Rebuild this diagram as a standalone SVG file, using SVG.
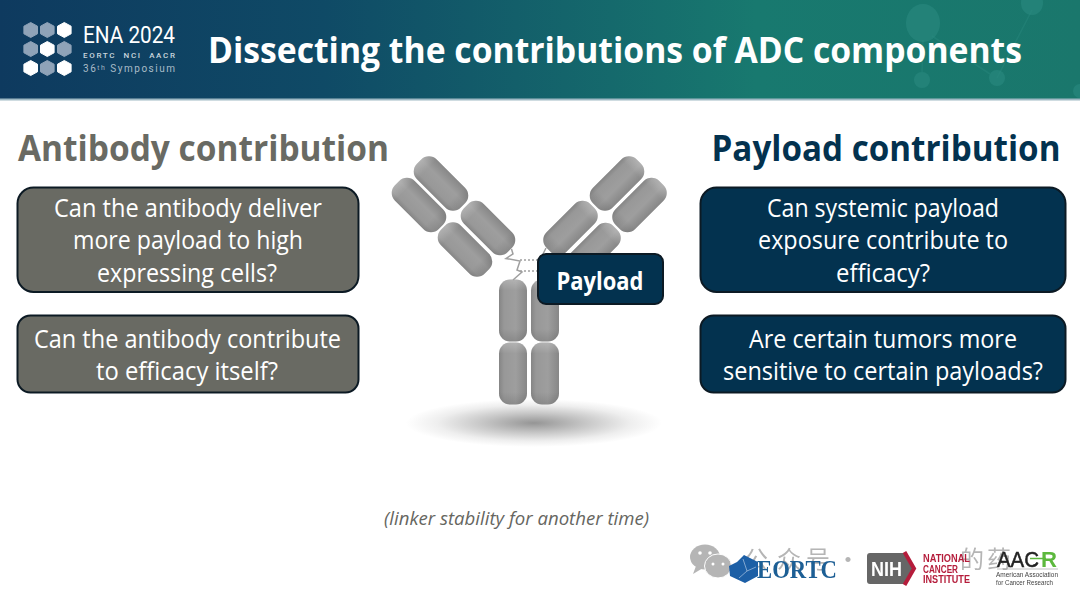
<svg xmlns="http://www.w3.org/2000/svg" width="1080" height="606" viewBox="0 0 1080 606">
<defs>
<linearGradient id="hdr" x1="0" x2="1" y1="0" y2="0"><stop offset="0" stop-color="#0e3a5f"/><stop offset="0.3" stop-color="#0f4a66"/><stop offset="0.7" stop-color="#18796f"/><stop offset="1" stop-color="#1a776c"/></linearGradient>
<linearGradient id="pill" x1="0" x2="1" y1="0" y2="0"><stop offset="0" stop-color="#858585"/><stop offset="0.18" stop-color="#989898"/><stop offset="0.6" stop-color="#9e9e9e"/><stop offset="1" stop-color="#878787"/></linearGradient>
<linearGradient id="pillv" x1="0" x2="0" y1="0" y2="1"><stop offset="0" stop-color="#fff" stop-opacity="0.22"/><stop offset="0.18" stop-color="#fff" stop-opacity="0"/><stop offset="0.8" stop-color="#000" stop-opacity="0"/><stop offset="1" stop-color="#000" stop-opacity="0.12"/></linearGradient>
<radialGradient id="shadow"><stop offset="0" stop-color="#959595"/><stop offset="0.4" stop-color="#c6c6c6"/><stop offset="0.75" stop-color="#eeeeee"/><stop offset="1" stop-color="#ffffff"/></radialGradient>
<g id="p"><rect x="-14" y="-31" width="28" height="62" rx="11" fill="url(#pill)"/><rect x="-14" y="-31" width="28" height="62" rx="11" fill="url(#pillv)"/></g>
<polygon id="hex" points="0,-7.500 6.800,-3.800 6.800,3.800 0,7.500 -6.800,3.800 -6.800,-3.800" stroke-linejoin="round" stroke-width="1" stroke="currentColor"/>
<filter id="soft" x="-5%" y="-5%" width="110%" height="110%"><feGaussianBlur stdDeviation="0.45"/></filter>
<style>
.t{font-family:"Open Sans","Noto Sans","Liberation Sans",sans-serif;text-anchor:middle}
.b{font-size:25px;fill:#fff}
.g{fill:#696a63;stroke:#0c1a24;stroke-width:2}
.n{fill:#03324f;stroke:#0c1a24;stroke-width:2}
.h{font-size:36px;font-weight:700}
.w{fill:#8fa3b8;color:#8fa3b8}
.v{fill:#fff;color:#fff}
</style>
</defs>
<rect width="1080" height="606" fill="#fff"/>
<g id="header">
<rect width="1080" height="99" fill="url(#hdr)"/>
<rect y="98.500" width="1080" height="2" fill="#9fb9c4"/>
<path d="M1032 10L997 78M923 40L922 72M932 36L990 74" stroke="#2a8a80" stroke-width="1.500" opacity="0.4" fill="none"/>
<g fill="#2a8a80" opacity="0.6"><ellipse cx="923" cy="23" rx="17" ry="19"/><circle cx="922" cy="80" r="8"/><circle cx="997" cy="78" r="8"/><ellipse cx="1032" cy="3" rx="11" ry="12"/><circle cx="1080" cy="91" r="7"/></g>
<g id="logo-hexes">
<use href="#hex" class="w" x="30.700" y="30"/><use href="#hex" class="w" x="47.300" y="30"/><use href="#hex" class="v" x="64.300" y="30"/>
<use href="#hex" class="w" x="30.700" y="49"/><use href="#hex" class="v" x="47.300" y="49"/><use href="#hex" class="w" x="64.300" y="49"/>
<use href="#hex" class="v" x="30.700" y="68"/><use href="#hex" class="w" x="47.300" y="68"/><use href="#hex" class="v" x="64.300" y="68"/>
</g>
<text x="83" y="43" font-family="Roboto,sans-serif" font-size="23" font-weight="400" fill="#fff" textLength="92" lengthAdjust="spacingAndGlyphs">ENA 2024</text>
<text x="83" y="58" font-family="Roboto,sans-serif" font-size="8" font-weight="500" fill="#c9d6de" textLength="92" xml:space="preserve">EORTC  NCI  AACR</text>
<text x="83" y="72" font-family="Roboto,sans-serif" font-size="10" fill="#a9bcc8" textLength="92">36ᵗʰ Symposium</text>
<text x="208" y="62.500" font-family="Open Sans,sans-serif" font-size="36" font-weight="700" fill="#fff" textLength="814" lengthAdjust="spacingAndGlyphs">Dissecting the contributions of ADC components</text>
</g>
<text class="t h" x="203.500" y="160.500" fill="#696a63" textLength="371" lengthAdjust="spacingAndGlyphs">Antibody contribution</text>
<text class="t h" x="886" y="160.500" fill="#03324f" textLength="349" lengthAdjust="spacingAndGlyphs">Payload contribution</text>
<g id="q1"><rect class="g" x="17.500" y="187.500" width="341" height="104.500" rx="16"/>
<text class="t b" x="188" y="217" textLength="268" lengthAdjust="spacingAndGlyphs">Can the antibody deliver</text><text class="t b" x="188" y="249" textLength="230" lengthAdjust="spacingAndGlyphs">more payload to high</text><text class="t b" x="187" y="281.500" textLength="180" lengthAdjust="spacingAndGlyphs">expressing cells?</text></g>
<g id="q2"><rect class="g" x="17.500" y="315.500" width="341" height="77" rx="13"/>
<text class="t b" x="187.500" y="348" textLength="307" lengthAdjust="spacingAndGlyphs">Can the antibody contribute</text><text class="t b" x="187" y="380" textLength="182" lengthAdjust="spacingAndGlyphs">to efficacy itself?</text></g>
<g id="q3"><rect class="n" x="700.500" y="187.500" width="365" height="104.500" rx="16"/>
<text class="t b" x="883" y="217" textLength="232" lengthAdjust="spacingAndGlyphs">Can systemic payload</text><text class="t b" x="883" y="249" textLength="250" lengthAdjust="spacingAndGlyphs">exposure contribute to</text><text class="t b" x="883" y="281.500" textLength="94" lengthAdjust="spacingAndGlyphs">efficacy?</text></g>
<g id="q4"><rect class="n" x="700.500" y="315.500" width="365" height="77" rx="13"/>
<text class="t b" x="883" y="348" textLength="268" lengthAdjust="spacingAndGlyphs">Are certain tumors more</text><text class="t b" x="883" y="380" textLength="320" lengthAdjust="spacingAndGlyphs">sensitive to certain payloads?</text></g>
<g id="antibody">
<ellipse cx="534" cy="423" rx="128" ry="24" fill="url(#shadow)"/>
<use href="#p" transform="translate(513 310.500)"/>
<use href="#p" transform="translate(545 310.500)"/>
<use href="#p" transform="translate(513 373.500)"/>
<use href="#p" transform="translate(545 373.500)"/>
<use href="#p" transform="translate(419 205) rotate(-45)"/>
<use href="#p" transform="translate(441 183.500) rotate(-45)"/>
<use href="#p" transform="translate(465 249.500) rotate(-45)"/>
<use href="#p" transform="translate(488 228) rotate(-45)"/>
<use href="#p" transform="translate(639.500 205) rotate(45)"/>
<use href="#p" transform="translate(617 183.500) rotate(45)"/>
<use href="#p" transform="translate(570.500 228) rotate(45)"/>
<use href="#p" transform="translate(593.500 250) rotate(45)"/>
<path d="M511.500 249L513 254L506 258.500L520 261L517 270L522 272L513 280M546 248L543 254" fill="none" stroke="#a0a0a0" stroke-width="1.500"/>
<path d="M520 260H540M520 271H540" fill="none" stroke="#a0a0a0" stroke-width="1.500" stroke-dasharray="2 2"/>
</g>
<g id="payload"><rect class="n" x="538" y="254" width="125" height="50" rx="8"/>
<text class="t" x="600" y="289.500" font-size="25" font-weight="700" fill="#fff" textLength="87" lengthAdjust="spacingAndGlyphs">Payload</text></g>
<text x="516.500" y="525" font-family="Open Sans,sans-serif" font-size="18" font-style="italic" fill="#66665f" text-anchor="middle" textLength="265" lengthAdjust="spacingAndGlyphs">(linker stability for another time)</text>
<g id="footer" filter="url(#soft)">
<g id="watermark" fill="#b5b5b5">
<ellipse cx="705" cy="557" rx="15" ry="12.500"/><path d="M696 566L693 574L703 568Z"/>
<ellipse cx="718" cy="566" rx="13.500" ry="12" stroke="#fff" stroke-width="1"/>
<g fill="#fff"><circle cx="700" cy="553" r="1.800"/><circle cx="710" cy="553" r="1.800"/><circle cx="713" cy="564" r="1.500"/><circle cx="723" cy="564" r="1.500"/></g>
<text y="568" font-family="Noto Sans CJK SC,sans-serif" font-size="24" x="744 777 806 836">公众号·</text>
<text y="568" font-family="Noto Sans CJK SC,sans-serif" font-size="24" x="960 987">的药</text>
</g>
<g id="eortc">
<path d="M744 555L758 562L758 576L745 583L730 576L729 566L737 562Z" fill="#1c5ea6"/>
<path d="M743 559L747 571L739 578M747 571L756 567" fill="none" stroke="#cfe0f0" stroke-width="0.800" opacity="0.7"/>
<text x="757" y="578" font-family="Liberation Serif,serif" font-size="26" font-weight="700" fill="#1f5f95" textLength="80" lengthAdjust="spacingAndGlyphs">EORTC</text>
</g>
<g id="nih">
<path d="M870 553H904L914 568.500L904 584H870Q867 584 867 581V556Q867 553 870 553Z" fill="#666"/>
<text x="871" y="576" font-family="Liberation Sans,sans-serif" font-size="20" font-weight="700" fill="#fff" textLength="31" lengthAdjust="spacingAndGlyphs">NIH</text>
<path d="M904.500 552L914 568.500L904.500 585" fill="none" stroke="#b51e3b" stroke-width="4"/>
<g font-family="Liberation Sans,sans-serif" font-size="10" font-weight="700" fill="#b51e3b"><text x="923" y="562" textLength="47" lengthAdjust="spacingAndGlyphs">NATIONAL</text><text x="923" y="572.500" textLength="35" lengthAdjust="spacingAndGlyphs">CANCER</text><text x="923" y="583" textLength="47" lengthAdjust="spacingAndGlyphs">INSTITUTE</text></g>
</g>
<g id="aacr">
<text x="997" y="567" font-family="Liberation Sans,sans-serif" font-size="22" fill="#222" stroke="#222" stroke-width="0.500" textLength="42" lengthAdjust="spacingAndGlyphs">AAC</text>
<text x="1041" y="567" font-family="Liberation Sans,sans-serif" font-size="22" font-weight="700" fill="#5cb83c" textLength="16" lengthAdjust="spacingAndGlyphs">R</text>
<path d="M1030 558.500H1046" stroke="#5cb83c" stroke-width="1.500"/>
<path d="M997 569H1058" stroke="#999" stroke-width="0.600"/>
<g font-family="Liberation Sans,sans-serif" font-size="7.500" fill="#444"><text x="996" y="577" textLength="62" lengthAdjust="spacingAndGlyphs">American Association</text><text x="996" y="585" textLength="57" lengthAdjust="spacingAndGlyphs">for Cancer Research</text></g>
</g>
</g>
</svg>
